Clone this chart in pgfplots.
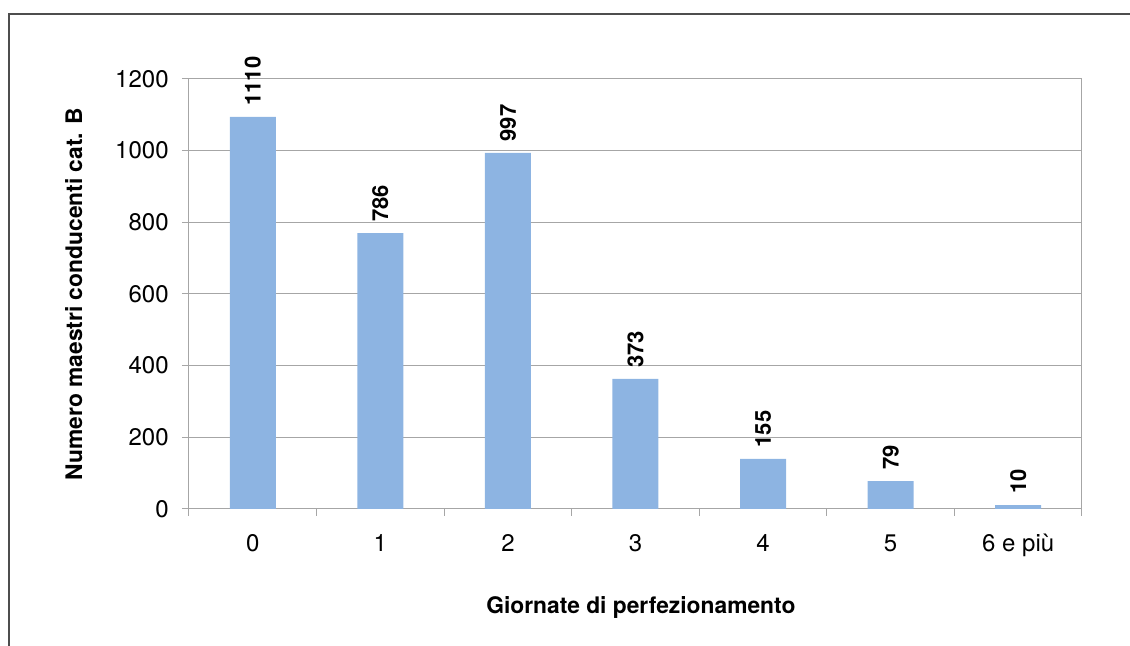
\documentclass[border=0pt]{standalone}
\usepackage{pgfplots}
\pgfplotsset{compat=1.18}
\usepackage{pgfplotstable}
\usepackage{fontspec}
\setmainfont{TeX Gyre Heros}
\definecolor{barblue}{HTML}{8DB4E2}
\definecolor{gridgray}{HTML}{A6A6A6}
\definecolor{framegray}{HTML}{4D4D4D}

\pgfplotstableread{
x y lab
0 1094 1110
1 770 786
2 994 997
3 363 373
4 140 155
5 78 79
6 11 10
}\datatable

\begin{document}
\begin{tikzpicture}[font=\fontsize{11}{13}\selectfont]
\useasboundingbox (0,0) rectangle (565pt,323pt);
\clip (0,0) rectangle (565pt,323pt);
\draw[framegray, line width=1pt] (4.5pt,-20pt) rectangle (600pt,316pt);
\begin{axis}[
  at={(94.5pt,68.5pt)}, anchor=south west,
  scale only axis, width=446.5pt, height=215pt,
  xmin=-0.5, xmax=6.5, ymin=0, ymax=1200,
  ytick={0,200,...,1200},
  xtick={-0.5,0.5,...,6.5}, xticklabels={},
  extra x ticks={0,1,2,3,4,5,6},
  extra x tick labels={0,1,2,3,4,5,6 e più},
  extra x tick style={major tick length=0pt, grid=none},
  xtick pos=bottom, ytick pos=left,
  tick align=outside, major tick length=3.5pt,
  ymajorgrids, grid style={gridgray, line width=0.5pt},
  axis line style={gridgray, line width=0.5pt},
  tick style={gridgray, line width=0.5pt},
  /pgf/number format/assume math mode=true,
  /pgf/number format/1000 sep={},
  tick label style={font=\fontsize{12}{14}\selectfont},
  yticklabel style={inner sep=0pt, anchor=east, xshift=-6.5pt},
  xticklabel style={inner sep=0pt, anchor=north, yshift=-12.5pt},
  ylabel={\bfseries Numero maestri conducenti cat. B},
  xlabel={\bfseries Giornate di perfezionamento},
  every axis y label/.style={at={(axis description cs:-0.1198,0.5)}, rotate=90, anchor=base, font=\fontsize{11.4}{13}\selectfont},
  every axis x label/.style={at={(axis description cs:0.506,-0.2419)}, anchor=base, font=\fontsize{11.4}{13}\selectfont},
  ybar, bar width=23pt,
  point meta=explicit symbolic,
  nodes near coords={\pgfplotspointmeta},
  every node near coord/.append style={rotate=90, anchor=west, font=\fontsize{11}{13}\selectfont\bfseries, inner xsep=5.5pt, inner ysep=0pt, text=black},
]
\addplot[fill=barblue, draw=none, bar shift=0pt] table[x=x, y=y, meta=lab] {\datatable};
\end{axis}
\end{tikzpicture}
\end{document}
